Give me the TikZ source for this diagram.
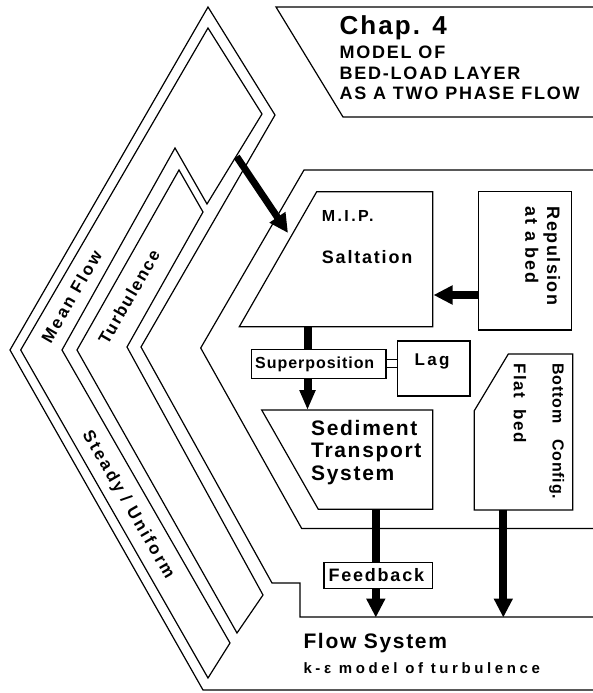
\documentclass[tikz,border=0pt]{standalone}
\usepackage{fontspec}
\setmainfont{Liberation Sans}
\usetikzlibrary{arrows.meta}
\newcommand{\tfont}[3]{\fontsize{#1}{#1}\selectfont#2\addfontfeatures{LetterSpace=#3}}
\begin{document}
\begin{tikzpicture}[x=1pt,y=-1pt,
  outline/.style={line width=1.2pt,line join=miter},
  boxline/.style={draw,line width=1.2pt,inner sep=0pt},
  shaft/.style={line width=8pt},
  bigarrow/.style={line width=8pt,-{Triangle[length=19pt,width=18pt]}},
  txt/.style={inner sep=0pt,anchor=base west},
  rtxt/.style={inner sep=0pt}]
\useasboundingbox (0,0) rectangle (592,693);
\fill[white] (0,0) rectangle (592,693);

% outer panel (Flow System)
\draw[outline] (594,690) -- (203,690) -- (10,350) -- (208,7) -- (275,115) -- (141,347) -- (272,583) -- (300,583) -- (300,617) -- (594,617);
% Mean Flow panel
\draw[outline] (20.7,350) -- (208,28) -- (262,114) -- (207,204) -- (175,148) -- (62,350) -- (230,643) -- (208,678) -- cycle;
% Turbulence panel
\draw[outline] (77,350) -- (179,170) -- (203,212) -- (127,347) -- (263,595) -- (237,633) -- cycle;
% Chap. 4 panel
\draw[outline] (594,7) -- (276,7) -- (343,117) -- (594,117);
% main panel
\draw[outline] (594,170) -- (304,170) -- (200.7,348) -- (301.7,528.5) -- (594,528.5);

% boxes
\draw[outline] (316.7,191.7) -- (432.7,191.7) -- (432.7,326.7) -- (239.3,326.7) -- cycle;
\draw[outline] (261.7,410) -- (432.7,410) -- (432.7,509.3) -- (318.3,509.3) -- cycle;
\draw[outline] (508.3,354) -- (572.7,354) -- (572.7,510) -- (474.3,510) -- (474.3,410.7) -- cycle;
\node[boxline, minimum width=93.4pt, minimum height=138.3pt] (rep) at (525,260.85) {};
\node[boxline, minimum width=134.3pt, minimum height=29pt] (sup) at (318.85,363.8) {};
\node[boxline, minimum width=72.3pt, minimum height=55pt] (lag) at (433.85,368.5) {};
\node[boxline, minimum width=108.7pt, minimum height=26pt] (fb) at (378.35,575.3) {};

% connector coordinates
\coordinate (mfR) at (236.7,156.7);
\coordinate (mipL) at (288,233);
\coordinate (mipE) at (433.5,295);
\coordinate (mipB) at (307.5,326.7);
\coordinate (sedT) at (307.5,410);
\coordinate (sedB) at (375.8,509.3);
\coordinate (bcB) at (503.3,510);
\coordinate (flowtop) at (300,617.5);

% connectors
\draw[bigarrow,line width=7pt] (mfR) -- (mipL);
\draw[bigarrow] (rep.west |- mipE) -- (mipE);
\draw[shaft] (mipB) -- (mipB |- sup.north);
\draw[bigarrow,-{Triangle[length=20pt,width=15pt]}] (mipB |- sup.south) -- (sedT);
\draw[line width=1pt,double distance=7pt] (sup.east) -- (sup.east -| lag.west);
\draw[shaft] (sedB) -- (sedB |- fb.north);
\draw[bigarrow] (sedB |- fb.south) -- (sedB |- flowtop);
\draw[bigarrow] (bcB) -- (bcB |- flowtop);

% texts
\node[txt, font=\tfont{26}{\bfseries}{8}] (chap) at (339.3,35) {Chap. 4};
\node[txt, font=\tfont{18}{\bfseries}{10}] (ta) at (339.3,58.3) {MODEL OF};
\node[txt, font=\tfont{18}{\bfseries}{10}] (tb) at (339.3,79) {BED-LOAD LAYER};
\node[txt, font=\tfont{18}{\bfseries}{10}] (tc) at (339.3,99.3) {AS A TWO PHASE FLOW};

\node[rtxt, rotate=60, font=\tfont{17}{\bfseries}{14}] (mean) at (71.5,296.5) {Mean Flow};
\node[rtxt, rotate=60, font=\tfont{17}{\bfseries}{10}] (turb) at (129,297) {Turbulence};
\node[rtxt, rotate=-60, font=\tfont{17}{\bfseries}{15}] (steady) at (128,505) {Steady / Uniform};

\node[txt, font=\tfont{16}{\bfseries}{15}] (mip) at (321.7,221.7) {M.I.P.};
\node[txt, font=\tfont{18}{\bfseries}{10}] (salt) at (321.7,263.3) {Saltation};
\node[rtxt, rotate=-90, anchor=west, font=\tfont{18}{\bfseries}{8}] (repu) at (551.7,206.7) {Repulsion};
\node[rtxt, rotate=-90, anchor=west, font=\tfont{18}{\bfseries}{9}] (ata) at (531.7,206.7) {at a bed};
\node[txt, font=\tfont{16}{\bfseries}{6}] (supt) at (255,368) {Superposition};
\node[txt, font=\tfont{17}{\bfseries}{14}] (lagt) at (414.3,365) {Lag};
\node[txt, font=\tfont{21}{\bfseries}{8}] (sed1) at (311,435) {Sediment};
\node[txt, font=\tfont{21}{\bfseries}{8}] (sed2) at (311,457.5) {Transport};
\node[txt, font=\tfont{21}{\bfseries}{8}] (sed3) at (311,480) {System};
\node[rtxt, rotate=-90, anchor=west, font=\tfont{16}{\bfseries}{5}] (bot) at (556.7,363.3) {Bottom\ \ \ Config.};
\node[rtxt, rotate=-90, anchor=west, font=\tfont{17}{\bfseries}{8}] (flat) at (520,363.3) {Flat\ \ bed};
\node[txt, font=\tfont{18}{\bfseries}{10}] (fbt) at (328.3,581.7) {Feedback};
\node[txt, font=\tfont{21}{\bfseries}{8}] (flow) at (303.3,648.3) {Flow System};
\node[txt, font=\tfont{15}{\bfseries}{24}] (keps) at (303.3,673.3) {k-ε model of turbulence};
\end{tikzpicture}
\end{document}
